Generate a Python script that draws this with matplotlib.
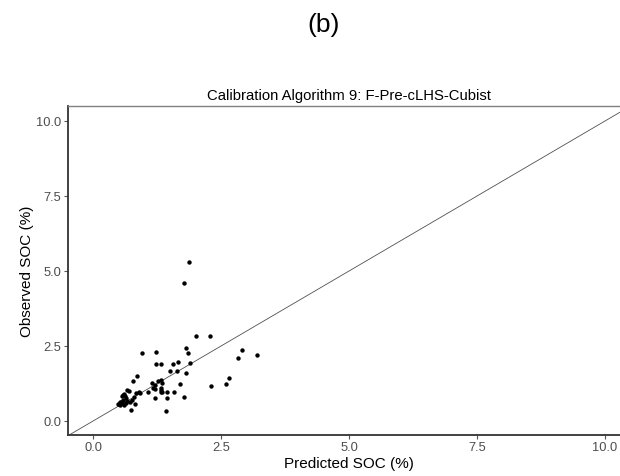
import matplotlib
matplotlib.use("Agg")
import matplotlib.pyplot as plt

plt.rcParams['font.family'] = ['Liberation Sans', 'DejaVu Sans']

# predicted vs observed SOC (%)
predicted = [1.87, 1.78, 2.02, 2.28, 0.95, 1.23, 1.81, 1.86, 2.91, 2.83,
             3.21, 1.23, 1.32, 1.57, 1.65, 1.90, 1.51, 1.64, 1.81, 2.65,
             2.59, 2.31, 1.70, 1.15, 1.21, 1.27, 1.32, 1.34, 1.17, 1.21,
             1.32, 1.32, 1.34, 1.45, 1.58, 1.08, 0.91, 1.21, 1.44, 1.77,
             1.42, 0.85, 0.78, 0.67, 0.70, 0.84, 0.90, 0.61, 0.59, 0.56,
             0.63, 0.79, 0.76, 0.72, 0.82, 0.74, 0.50, 0.53, 0.57, 0.55,
             0.60, 0.64, 0.58, 0.52, 0.66, 0.48, 0.64, 1.32]
observed = [5.31, 4.61, 2.82, 2.82, 2.26, 2.31, 2.42, 2.27, 2.38, 2.09,
            2.21, 1.90, 1.90, 1.90, 1.97, 1.94, 1.66, 1.66, 1.60, 1.43,
            1.23, 1.17, 1.24, 1.27, 1.20, 1.33, 1.38, 1.27, 1.09, 1.07,
            1.09, 0.98, 0.96, 0.98, 0.96, 0.98, 0.93, 0.77, 0.77, 0.79,
            0.33, 1.50, 1.32, 1.04, 0.99, 0.92, 0.96, 0.90, 0.87, 0.82,
            0.82, 0.81, 0.70, 0.62, 0.57, 0.38, 0.58, 0.55, 0.60, 0.65,
            0.55, 0.60, 0.70, 0.62, 0.68, 0.56, 0.76, 1.03]

ticks = [0.0, 2.5, 5.0, 7.5, 10.0]
tick_labels = ["0.0", "2.5", "5.0", "7.5", "10.0"]

fig = plt.figure(figsize=(6.2, 4.77), dpi=100)
fig.text(0.522, 0.948, "(b)", ha="center", va="center", fontsize=19)

ax = fig.add_axes([68 / 620, 41.5 / 477, 562.6 / 620, 328.5 / 477])
ax.set_xlim(-0.49, 10.5)
ax.set_ylim(-0.45, 10.5)

# 1:1 line
ax.plot([-0.5, 10.5], [-0.5, 10.5], color="#505050", lw=0.6, zorder=1)
ax.scatter(predicted, observed, s=10, color="black", linewidths=0, zorder=2)

ax.set_xticks(ticks)
ax.set_xticklabels(tick_labels)
ax.set_yticks(ticks)
ax.set_yticklabels(tick_labels)
ax.tick_params(length=3, width=0.8, color="#555555", labelcolor="#4d4d4d",
               labelsize=9.3, pad=2)

ax.spines["right"].set_visible(False)
ax.spines["top"].set_color("#808080")
ax.spines["top"].set_linewidth(1.0)
for side in ["left", "bottom"]:
    ax.spines[side].set_color("#333333")
    ax.spines[side].set_linewidth(1.3)

ax.set_title("Calibration Algorithm 9: F-Pre-cLHS-Cubist", fontsize=10.7, pad=5)
ax.set_xlabel("Predicted SOC (%)", fontsize=11, labelpad=2)
ax.set_ylabel("Observed SOC (%)", fontsize=11, labelpad=1)

fig.savefig("out.png", dpi=100)
